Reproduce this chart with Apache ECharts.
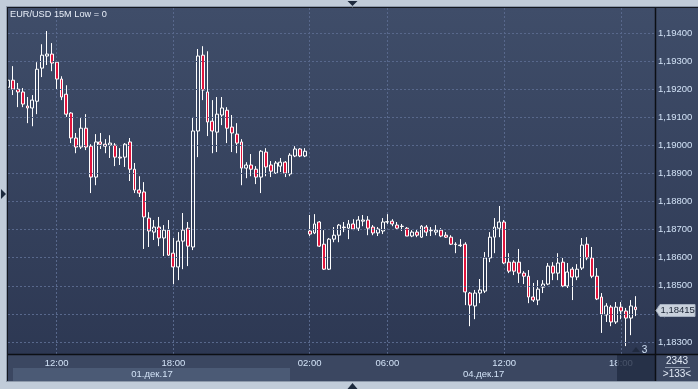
<!DOCTYPE html>
<html><head><meta charset="utf-8">
<script src="https://cdn.jsdelivr.net/npm/echarts@6/dist/echarts.min.js"></script>
<style>html,body{margin:0;padding:0;background:#c1ccd9}#c{width:698px;height:389px}</style>
</head><body><div id="c"></div>
<script>
const opens = [1.19207,1.19232,1.19200,1.19190,1.19140,1.19133,1.19157,1.19275,1.19318,1.19325,
1.19296,1.19236,1.19182,1.19115,1.19026,1.18994,1.19061,1.18997,1.18887,1.19012,
1.19004,1.19001,1.19001,1.18958,1.18958,1.19012,1.18915,1.18841,1.18834,1.18741,
1.18691,1.18709,1.18670,1.18698,1.18616,1.18567,1.18659,1.18705,1.18638,1.19051,
1.19321,1.19190,1.19086,1.19047,1.19108,1.19125,1.19065,1.19040,1.19012,1.18919,
1.18930,1.18915,1.18887,1.18976,1.18930,1.18901,1.18926,1.18940,1.18898,1.18962,
1.18987,1.18962,1.18695,1.18688,1.18727,1.18648,1.18559,1.18666,1.18680,1.18709,
1.18705,1.18720,1.18705,1.18730,1.18734,1.18709,1.18688,1.18695,1.18727,1.18730,
1.18716,1.18712,1.18705,1.18677,1.18691,1.18673,1.18709,1.18698,1.18691,1.18698,
1.18680,1.18673,1.18648,1.18643,1.18648,1.18474,1.18428,1.18474,1.18481,1.18599,
1.18673,1.18705,1.18727,1.18584,1.18584,1.18584,1.18545,1.18534,1.18460,1.18449,
1.18495,1.18506,1.18570,1.18545,1.18584,1.18499,1.18559,1.18531,1.18563,1.18648,
1.18599,1.18534,1.18460,1.18396,1.18424,1.18371,1.18424,1.18410,1.18385,1.18424];
const closes = [1.19232,1.19200,1.19190,1.19147,1.19133,1.19161,1.19271,1.19321,1.19325,1.19293,
1.19236,1.19172,1.19111,1.19026,1.18994,1.19061,1.18994,1.18887,1.19012,1.19004,
1.18997,1.19008,1.18958,1.18955,1.19004,1.18915,1.18841,1.18830,1.18745,1.18695,
1.18709,1.18670,1.18698,1.18609,1.18567,1.18659,1.18698,1.18641,1.19051,1.19318,
1.19197,1.19083,1.19051,1.19111,1.19133,1.19061,1.19044,1.19008,1.18919,1.18930,
1.18915,1.18887,1.18979,1.18923,1.18908,1.18937,1.18940,1.18901,1.18965,1.18987,
1.18962,1.18979,1.18684,1.18720,1.18641,1.18559,1.18666,1.18680,1.18716,1.18707,
1.18720,1.18702,1.18734,1.18734,1.18705,1.18688,1.18702,1.18727,1.18728,1.18720,
1.18705,1.18711,1.18677,1.18691,1.18680,1.18712,1.18691,1.18696,1.18698,1.18677,
1.18673,1.18648,1.18647,1.18645,1.18478,1.18431,1.18474,1.18485,1.18599,1.18673,
1.18709,1.18727,1.18581,1.18552,1.18552,1.18545,1.18534,1.18460,1.18449,1.18488,
1.18506,1.18570,1.18545,1.18581,1.18499,1.18549,1.18531,1.18559,1.18645,1.18599,
1.18534,1.18453,1.18399,1.18428,1.18371,1.18424,1.18410,1.18385,1.18428,1.18415];
const lows = [1.19190,1.19179,1.19136,1.19136,1.19079,1.19068,1.19111,1.19243,1.19286,1.19264,
1.19197,1.19161,1.19101,1.19008,1.18972,1.18987,1.18983,1.18830,1.18858,1.18987,
1.18972,1.18955,1.18926,1.18930,1.18923,1.18873,1.18830,1.18816,1.18631,1.18638,
1.18663,1.18641,1.18606,1.18606,1.18506,1.18520,1.18559,1.18570,1.18627,1.18958,
1.19161,1.19033,1.18972,1.18976,1.19072,1.19008,1.18976,1.18972,1.18858,1.18883,
1.18890,1.18862,1.18830,1.18890,1.18887,1.18898,1.18905,1.18887,1.18890,1.18958,
1.18958,1.18958,1.18677,1.18684,1.18638,1.18556,1.18556,1.18655,1.18655,1.18691,
1.18666,1.18698,1.18695,1.18712,1.18680,1.18680,1.18677,1.18684,1.18720,1.18712,
1.18702,1.18695,1.18677,1.18673,1.18673,1.18670,1.18677,1.18677,1.18680,1.18673,
1.18670,1.18645,1.18616,1.18638,1.18431,1.18356,1.18381,1.18438,1.18474,1.18584,
1.18616,1.18673,1.18577,1.18545,1.18538,1.18510,1.18506,1.18438,1.18442,1.18431,
1.18474,1.18502,1.18520,1.18520,1.18495,1.18492,1.18449,1.18520,1.18556,1.18591,
1.18527,1.18449,1.18332,1.18371,1.18356,1.18364,1.18381,1.18285,1.18324,1.18392];
const highs = [1.19250,1.19282,1.19222,1.19204,1.19172,1.19179,1.19296,1.19360,1.19407,1.19364,
1.19296,1.19246,1.19214,1.19118,1.19044,1.19097,1.19111,1.19004,1.19040,1.19044,
1.19022,1.19036,1.19008,1.18990,1.19008,1.19026,1.18937,1.18890,1.18869,1.18762,
1.18734,1.18745,1.18716,1.18734,1.18670,1.18691,1.18759,1.18727,1.19101,1.19343,
1.19353,1.19335,1.19161,1.19172,1.19172,1.19136,1.19108,1.19079,1.19022,1.18940,
1.18969,1.18926,1.18983,1.18990,1.18944,1.18944,1.18955,1.18944,1.18972,1.18997,
1.18990,1.18990,1.18752,1.18755,1.18730,1.18698,1.18670,1.18709,1.18720,1.18727,
1.18734,1.18737,1.18748,1.18752,1.18748,1.18716,1.18709,1.18741,1.18755,1.18737,
1.18727,1.18720,1.18709,1.18698,1.18702,1.18716,1.18716,1.18709,1.18716,1.18705,
1.18691,1.18680,1.18655,1.18666,1.18655,1.18478,1.18485,1.18524,1.18620,1.18691,
1.18741,1.18784,1.18734,1.18616,1.18591,1.18631,1.18552,1.18556,1.18510,1.18520,
1.18520,1.18581,1.18584,1.18616,1.18599,1.18581,1.18567,1.18577,1.18670,1.18673,
1.18638,1.18563,1.18474,1.18438,1.18431,1.18442,1.18442,1.18421,1.18449,1.18463];

const slotCount = 134;
const tickIndex = [10, 34, 62, 78, 102, 126];
const tickText = ['12:00', '18:00', '02:00', '06:00', '12:00', '18:00'];
const priceTicks = [1.183, 1.184, 1.185, 1.186, 1.187, 1.188, 1.189, 1.190, 1.191, 1.192, 1.193, 1.194];
const dateLabels = ['01.дек.17', '04.дек.17'];
const titleText = 'EUR/USD 15M Low = 0';
const infoTop = '2343';
const infoBottom = '>133<';
const cornerText = '3';

const FONT = 'Liberation Sans';
const FS = 9.5;
const LBL = '#d2e2f6';
const GRIDC = '#58688c';

const candles = opens.map((o, i) => [o, closes[i], lows[i], highs[i]]);
const categories = Array.from({length: slotCount}, (_, i) => 'b' + i);
const fmtPrice = v => v.toFixed(5).replace('.', ',');
const font = s => s + 'px "' + FONT + '"';

const chart = echarts.init(document.getElementById('c'), null, {renderer: 'canvas', width: 698, height: 389});
chart.setOption({
  animation: false,
  backgroundColor: '#c1ccd9',
  grid: {left: 8, right: 43, top: 8, bottom: 35, containLabel: false},
  xAxis: {
    type: 'category', data: categories, boundaryGap: false,
    axisLine: {show: false}, axisTick: {show: false},
    axisLabel: {
      interval: i => tickIndex.includes(i),
      formatter: (v, i) => { const k = tickIndex.indexOf(i); return k >= 0 ? tickText[k] : ''; },
      color: LBL, fontSize: FS, fontFamily: FONT, margin: 4
    },
    splitLine: {show: true, interval: i => tickIndex.includes(i), lineStyle: {color: GRIDC, type: [2, 2], width: 1}}
  },
  yAxis: {type: 'value', min: 1.18257, max: 1.19489, show: false, splitLine: {show: false}},
  series: [
    {
      type: 'line', data: [], z: 1, silent: true,
      markLine: {
        silent: true, symbol: ['none', 'none'], precision: 5, animation: false,
        data: priceTicks.map(v => ({yAxis: v})),
        lineStyle: {color: GRIDC, type: [2, 2], width: 1},
        emphasis: {disabled: true},
        label: {show: true, position: 'end', distance: 3, formatter: p => fmtPrice(Number(p.value)), color: LBL, fontSize: FS, fontFamily: FONT}
      }
    },
    {
      type: 'candlestick', data: candles, barWidth: 3.4, z: 3, silent: true,
      itemStyle: {color: 'rgba(0,0,0,0)', color0: '#e0143c', borderColor: '#ffffff', borderColor0: '#ffffff', borderWidth: 1}
    }
  ]
});

const lastClose = closes[closes.length - 1];
const py = Math.round(chart.convertToPixel({yAxisIndex: 0}, lastClose)) + 0.5;

const G = [];
G.push({type: 'rect', z: -10, silent: true, shape: {x: 8, y: 8, width: 690, height: 346},
  style: {fill: new echarts.graphic.LinearGradient(0, 0, 0, 1, [{offset: 0, color: '#3f4d69'}, {offset: 1, color: '#2d3853'}])}});
G.push({type: 'rect', z: -10, silent: true, shape: {x: 8, y: 354, width: 690, height: 27}, style: {fill: '#3b4761'}});
G.push({type: 'rect', z: -9, silent: true, shape: {x: 13, y: 368, width: 277, height: 13}, style: {fill: '#4b5a75'}});
G.push({type: 'line', z: 60, silent: true, shape: {x1: 6, y1: 6.5, x2: 698, y2: 6.5}, style: {stroke: '#8e9aab', lineWidth: 1}});
G.push({type: 'line', z: 60, silent: true, shape: {x1: 6.5, y1: 6, x2: 6.5, y2: 382}, style: {stroke: '#8e9aab', lineWidth: 1}});
G.push({type: 'line', z: 60, silent: true, shape: {x1: 7, y1: 7.5, x2: 698, y2: 7.5}, style: {stroke: '#141820', lineWidth: 1}});
G.push({type: 'line', z: 60, silent: true, shape: {x1: 7.5, y1: 7, x2: 7.5, y2: 381}, style: {stroke: '#141820', lineWidth: 1}});
G.push({type: 'line', z: 60, silent: true, shape: {x1: 6, y1: 381.5, x2: 698, y2: 381.5}, style: {stroke: '#8e9aab', lineWidth: 1}});
G.push({type: 'line', z: 60, silent: true, shape: {x1: 8, y1: 354.5, x2: 698, y2: 354.5}, style: {stroke: '#0c0f14', lineWidth: 1.5}});
G.push({type: 'line', z: 60, silent: true, shape: {x1: 655.5, y1: 8, x2: 655.5, y2: 381}, style: {stroke: '#0c0f14', lineWidth: 1.5}});
G.push({type: 'rect', z: 50, silent: true, shape: {x: 617, y: 355, width: 38, height: 26}, style: {fill: 'rgba(34,44,66,0.8)'}});
G.push({type: 'text', z: 60, silent: true, x: 10, y: 10, style: {text: titleText, fill: '#e8eef8', font: font(9.2), textVerticalAlign: 'top'}});
G.push({type: 'text', z: 60, silent: true, x: 152, y: 374.5, style: {text: dateLabels[0], fill: LBL, font: font(FS), textAlign: 'center', textVerticalAlign: 'middle'}});
G.push({type: 'text', z: 60, silent: true, x: 463, y: 374.5, style: {text: dateLabels[1], fill: LBL, font: font(FS), textAlign: 'left', textVerticalAlign: 'middle'}});
G.push({type: 'text', z: 60, silent: true, x: 677, y: 361.5, style: {text: infoTop, fill: '#e2eaf6', font: font(10), textAlign: 'center', textVerticalAlign: 'middle'}});
G.push({type: 'line', z: 60, silent: true, shape: {x1: 665, y1: 367.5, x2: 690, y2: 367.5}, style: {stroke: '#8d99ad', lineWidth: 1}});
G.push({type: 'text', z: 60, silent: true, x: 677, y: 374.5, style: {text: infoBottom, fill: '#e2eaf6', font: font(10), textAlign: 'center', textVerticalAlign: 'middle'}});
G.push({type: 'polygon', z: 60, silent: true, shape: {points: [[347.5, 1], [357.5, 1], [352.5, 6]]}, style: {fill: '#1d2a3d'}});
G.push({type: 'polygon', z: 60, silent: true, shape: {points: [[347.5, 389], [357.5, 389], [352.5, 383]]}, style: {fill: '#1d2a3d'}});
G.push({type: 'polygon', z: 60, silent: true, shape: {points: [[1, 189], [1, 199], [6, 194]]}, style: {fill: '#1d2a3d'}});
G.push({type: 'polygon', z: 60, silent: true, shape: {points: [[632, 352], [640, 352], [636, 347]]}, style: {fill: 'rgba(30,40,60,0.85)'}});
G.push({type: 'text', z: 60, silent: true, x: 644.5, y: 350, style: {text: cornerText, fill: LBL, font: font(10), textAlign: 'center', textVerticalAlign: 'middle'}});
G.push({type: 'polygon', z: 70, silent: true, shape: {points: [[656, py], [660, py - 6], [695, py - 6], [695, py + 6], [660, py + 6]]}, style: {fill: '#c9d1dc', stroke: '#a4afbf', lineWidth: 1}});
G.push({type: 'text', z: 71, silent: true, x: 660.5, y: py, style: {text: fmtPrice(lastClose), fill: '#1a2434', font: font(FS), textAlign: 'left', textVerticalAlign: 'middle'}});

chart.setOption({graphic: {elements: G}});
</script>
</body></html>
